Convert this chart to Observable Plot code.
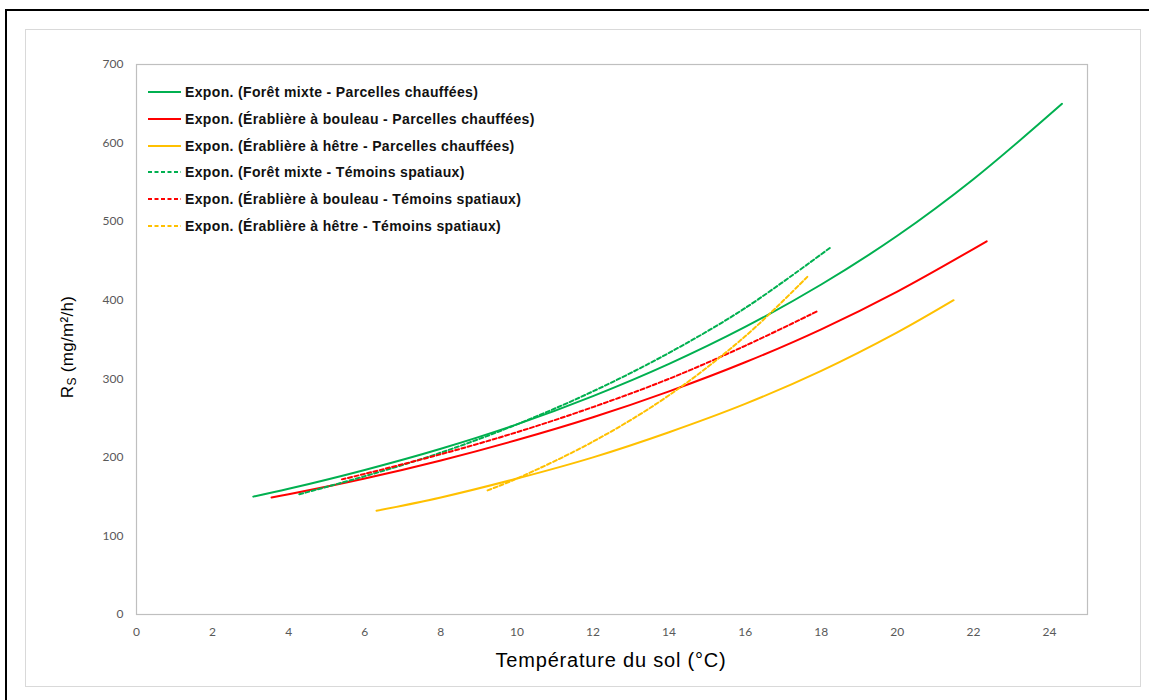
<!DOCTYPE html>
<html>
<head>
<meta charset="utf-8">
<script src="https://cdn.jsdelivr.net/npm/d3@7"></script>
<script src="https://cdn.jsdelivr.net/npm/@observablehq/plot@0.6"></script>
<style>
  html, body { margin: 0; padding: 0; background: #fff; overflow: hidden; }
  #wrap { position: relative; width: 1149px; height: 700px; overflow: hidden; }
  #outer { position: absolute; left: 5px; top: 9px; width: 1170px; height: 720px; border: 2px solid #000; box-sizing: border-box; }
  #inner { position: absolute; left: 25px; top: 29px; width: 1116px; height: 658px; border: 1px solid #d9d9d9; box-sizing: border-box; }
  #chart { position: absolute; left: 0; top: 0; }
  .title { position: absolute; font-family: "Liberation Sans", Arial, sans-serif; color: #000; white-space: nowrap; }
  #xtitle { left: 611px; top: 660px; font-size: 20px; letter-spacing: 0.8px; transform: translate(-50%, -50%); }
  #ytitle { left: 68px; top: 347px; font-size: 17px; letter-spacing: 0.3px; transform: translate(-50%, -50%) rotate(-90deg); }
  #ytitle sub { font-size: 12px; vertical-align: -3px; }
  #legend { position: absolute; left: 148px; top: 79px; font-family: "Liberation Sans", Arial, sans-serif; font-weight: bold; font-size: 14px; letter-spacing: 0.35px; color: #111; }
  .row { display: flex; align-items: center; height: 26.7px; white-space: nowrap; }
  .row svg { margin-right: 4px; }
</style>
</head>
<body>
<div id="wrap">
  <div id="outer"></div>
  <div id="inner"></div>
  <div id="chart"></div>
  <div class="title" id="xtitle">Température du sol (°C)</div>
  <div class="title" id="ytitle">R<sub>S</sub> (mg/m²/h)</div>
  <div id="legend"></div>
</div>
<script>
// Series names (legend order)
const seriesNames = [
  "Expon. (Forêt mixte - Parcelles chauffées)",
  "Expon. (Érablière à bouleau - Parcelles chauffées)",
  "Expon. (Érablière à hêtre - Parcelles chauffées)",
  "Expon. (Forêt mixte - Témoins spatiaux)",
  "Expon. (Érablière à bouleau - Témoins spatiaux)",
  "Expon. (Érablière à hêtre - Témoins spatiaux)"
];
const seriesColors = ["#00B050", "#FF0000", "#FFC000", "#00B050", "#FF0000", "#FFC000"];
const seriesDashed = [false, false, false, true, true, true];

// Values (soil temperature °C, Rs mg/m²/h)
const mixteChaufT   = [3.07, 4, 6, 8, 10, 12, 14, 16, 18, 20, 22, 24.33];
const mixteChaufR   = [150, 160, 184, 211, 242, 278, 319, 366, 420, 482, 554, 650];
const bouleauChaufT = [3.55, 4, 6, 8, 10, 12, 14, 16, 18, 20, 22.35];
const bouleauChaufR = [149, 153, 173, 196, 222, 251, 284, 321, 363, 411, 475];
const hetreChaufT   = [6.31, 8, 10, 12, 14, 16, 18, 20, 21.48];
const hetreChaufR   = [132, 149, 173, 200, 232, 268, 310, 359, 400];
const mixteTemT     = [4.28, 6, 8, 10, 12, 14, 16, 18.24];
const mixteTemR     = [153, 176, 206, 242, 284, 333, 390, 467];
const bouleauTemT   = [5.4, 6, 8, 10, 12, 14, 16, 17.9];
const bouleauTemR   = [172, 179, 204, 232, 264, 300, 342, 386];
const hetreTemT     = [9.23, 10, 12, 14, 16, 17.64];
const hetreTemR     = [158, 173, 220, 279, 354, 430];

const xTicks = [0, 2, 4, 6, 8, 10, 12, 14, 16, 18, 20, 22, 24];
const yTicks = [0, 100, 200, 300, 400, 500, 600, 700];

const seriesT = [mixteChaufT, bouleauChaufT, hetreChaufT, mixteTemT, bouleauTemT, hetreTemT];
const seriesR = [mixteChaufR, bouleauChaufR, hetreChaufR, mixteTemR, bouleauTemR, hetreTemR];

const rows = [];
seriesNames.forEach((name, i) => {
  seriesT[i].forEach((t, j) => rows.push({series: name, idx: i, t, r: seriesR[i][j]}));
});

const lineMarks = seriesNames.map((name, i) =>
  Plot.line(rows.filter(d => d.idx === i), {
    x: "t", y: "r",
    stroke: seriesColors[i],
    strokeWidth: 2,
    strokeDasharray: seriesDashed[i] ? "4,2.5" : null,
    curve: "catmull-rom"
  })
);

const chart = Plot.plot({
  width: 1149,
  height: 700,
  marginLeft: 136,
  marginRight: 62,
  marginTop: 64,
  marginBottom: 86,
  style: {background: "transparent", fontFamily: "Lato, 'Open Sans', sans-serif"},
  x: {domain: [0, 25]},
  y: {domain: [0, 700]},
  marks: [
    Plot.frame({stroke: "#bfbfbf", strokeWidth: 1.2}),
    Plot.axisX(xTicks, {tickSize: 0, tickPadding: 13, fontSize: 12, fill: "#595959", label: null}),
    Plot.axisY(yTicks, {tickSize: 0, tickPadding: 13, fontSize: 12, fill: "#595959", label: null}),
    ...lineMarks
  ]
});
document.getElementById("chart").appendChild(chart);

const legend = document.getElementById("legend");
seriesNames.forEach((name, i) => {
  const row = document.createElement("div");
  row.className = "row";
  row.innerHTML = `<svg width="33" height="4"><line x1="0" y1="2" x2="33" y2="2" stroke="${seriesColors[i]}" stroke-width="2" ${seriesDashed[i] ? 'stroke-dasharray="4,2.5"' : ''}/></svg><span>${name}</span>`;
  legend.appendChild(row);
});
</script>
</body>
</html>
